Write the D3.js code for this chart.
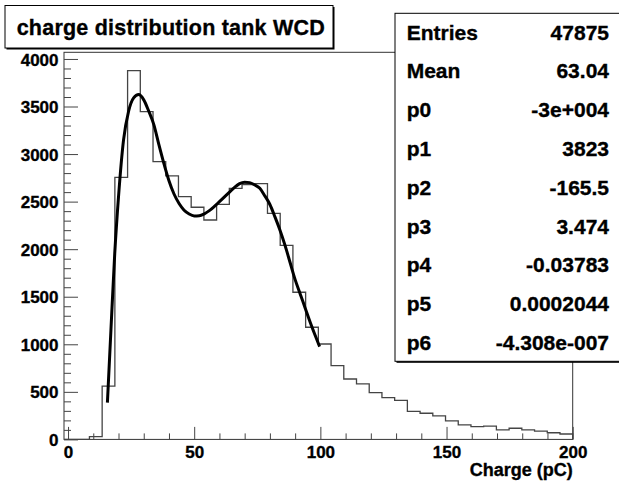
<!DOCTYPE html>
<html lang="en">
  <head>
    <meta charset="utf-8">
    <title>charge distribution tank WCD</title>
    <script type="text/javascript" src="https://cdn.jsdelivr.net/npm/d3@7"></script>
    <style>
      body { margin: 0; background: #fff; }
      text { font-family: "Liberation Sans", Arial, sans-serif; font-weight: bold; fill: #000;
             stroke: #000; stroke-width: 0.35px; }
    </style>
  </head>
  <body>
    <script type="text/javascript">
    // histogram: 40 bins between xLow and xHigh
    var xLow = -1.6;
    var xHigh = 200;
    var binCounts = [0, 0, 30, 560, 2756, 3878, 3446, 2920, 2770, 2552,
                     2441, 2307, 2472, 2640, 2680, 2690, 2377, 2040, 1547, 1179,
                     1003, 775, 635, 583, 491, 440, 410, 295, 275, 248,
                     195, 152, 135, 140, 100, 117, 100, 88, 70, 57];

    // pol6 fit curve
    var fitX = [15.6, 17, 18.5, 20, 22, 24, 26, 28, 30, 32, 34, 36, 38, 40, 42, 44, 46, 48, 50, 52,
                54, 56, 58, 60, 62, 64, 66, 68, 70, 72, 74, 76, 78, 80, 82, 84, 86, 88, 90, 92,
                94, 96, 98, 99.7];
    var fitY = [386, 1150, 1950, 2550, 3150, 3450, 3590, 3625, 3570, 3450, 3310, 3100, 2900, 2720, 2580, 2480, 2410, 2370, 2350, 2352,
                2372, 2405, 2450, 2500, 2550, 2600, 2650, 2690, 2705, 2700, 2675, 2640, 2560, 2470, 2340, 2200, 2040, 1860, 1680, 1530,
                1380, 1230, 1090, 975];

    // stat box rows
    var statNames = ["Entries", "Mean", "p0", "p1", "p2", "p3", "p4", "p5", "p6"];
    var statValues = ["47875", "63.04", "-3e+004", "3823", "-165.5", "3.474", "-0.03783", "0.0002044", "-4.308e-007"];

    var xMajor = [0, 50, 100, 150, 200];
    var yMajor = [0, 500, 1000, 1500, 2000, 2500, 3000, 3500, 4000];

    var w = 619;
    var h = 484;

    var svg = d3.select("body")
                .append("svg")
                .attr("width", w)
                .attr("height", h);

    svg.append("rect").attr("width", w).attr("height", h).attr("fill", "#fff");

    // frame
    var fLeft = 64, fRight = 572.7, fTop = 52.3, fBottom = 439.4;

    var xScale = d3.scaleLinear().domain([xLow, xHigh]).range([fLeft, fRight]);
    var yScale = d3.scaleLinear().domain([0, 4070]).range([fBottom, fTop]);

    svg.append("rect")
       .attr("x", fLeft).attr("y", fTop)
       .attr("width", fRight - fLeft).attr("height", fBottom - fTop)
       .attr("fill", "none").attr("stroke", "#333").attr("stroke-width", 1);

    // ticks (pointing inside the frame)
    var xMinor = d3.range(10, 200, 10).filter(function(v) { return v % 50 != 0; });
    var yMinor = d3.range(100, 4070, 100).filter(function(v) { return v % 500 != 0; });

    var xAxisG = svg.append("g").attr("transform", "translate(0," + fBottom + ")");
    xAxisG.append("g").call(d3.axisBottom(xScale).tickValues(xMinor).tickSize(-6).tickFormat(""));
    xAxisG.append("g").call(d3.axisBottom(xScale).tickValues(xMajor).tickSize(-12.5).tickFormat(d3.format("d")));

    var yAxisG = svg.append("g").attr("transform", "translate(" + fLeft + ",0)");
    yAxisG.append("g").call(d3.axisLeft(yScale).tickValues(yMinor).tickSize(-7).tickFormat(""));
    yAxisG.append("g").call(d3.axisLeft(yScale).tickValues(yMajor).tickSize(-14).tickFormat(d3.format("d")));

    svg.selectAll(".domain").remove();
    svg.selectAll(".tick line").attr("stroke", "#444").attr("stroke-width", 1);

    xAxisG.selectAll("text")
          .attr("y", 18.5).attr("dy", null)
          .style("font-size", "17px").style("font-family", null).attr("fill", "#000");
    yAxisG.selectAll("text")
          .attr("x", -5.5).attr("dy", "0.36em")
          .style("font-size", "17px").style("font-family", null).attr("fill", "#000");

    // x axis title
    svg.append("text")
       .attr("x", fRight).attr("y", 475.5)
       .attr("text-anchor", "end")
       .style("font-size", "18px")
       .text("Charge (pC)");

    // histogram outline
    var binWidth = (xHigh - xLow) / binCounts.length;
    var stepPts = binCounts.map(function(d, i) { return [xLow + i * binWidth, d]; });
    stepPts.push([xHigh, binCounts[binCounts.length - 1]]);
    stepPts.push([xHigh, 0]);

    var stepLine = d3.line()
                     .x(function(d) { return xScale(d[0]); })
                     .y(function(d) { return yScale(d[1]); })
                     .curve(d3.curveStepAfter);

    svg.append("path")
       .attr("d", stepLine(stepPts))
       .attr("fill", "none")
       .attr("stroke", "#444")
       .attr("stroke-width", 1.3);

    // fit curve
    var fitPts = fitX.map(function(d, i) { return [d, fitY[i]]; });
    var fitLine = d3.line()
                    .x(function(d) { return xScale(d[0]); })
                    .y(function(d) { return yScale(d[1]); })
                    .curve(d3.curveMonotoneX);

    svg.append("path")
       .attr("d", fitLine(fitPts))
       .attr("fill", "none")
       .attr("stroke", "#000")
       .attr("stroke-width", 3)
       .attr("stroke-linejoin", "round");

    // title box with shadow
    svg.append("rect").attr("x", 6.5).attr("y", 7).attr("width", 328).attr("height", 42.5).attr("fill", "#000");
    svg.append("rect").attr("x", 5).attr("y", 5.5).attr("width", 328).attr("height", 42.5)
       .attr("fill", "#fff").attr("stroke", "#000").attr("stroke-width", 1);
    svg.append("text")
       .attr("x", 16.7).attr("y", 35)
       .attr("textLength", 308)
       .style("font-size", "21.5px")
       .text("charge distribution tank WCD");

    // stat box
    svg.append("rect").attr("x", 396.5).attr("y", 14.8).attr("width", 240).attr("height", 348).attr("fill", "#000");
    svg.append("rect").attr("x", 395).attr("y", 13.3).attr("width", 240).attr("height", 348)
       .attr("fill", "#fff").attr("stroke", "#000").attr("stroke-width", 1);

    var rowStep = 38.8;
    svg.selectAll("text.statName")
       .data(statNames)
       .enter()
       .append("text")
       .attr("class", "statName")
       .attr("x", 406.7)
       .attr("y", function(d, i) { return 39.5 + i * rowStep; })
       .style("font-size", "21px")
       .text(function(d) { return d; });

    svg.selectAll("text.statValue")
       .data(statValues)
       .enter()
       .append("text")
       .attr("class", "statValue")
       .attr("x", 609)
       .attr("y", function(d, i) { return 39.5 + i * rowStep; })
       .attr("text-anchor", "end")
       .style("font-size", "21px")
       .text(function(d) { return d; });

    </script>
  </body>
</html>
